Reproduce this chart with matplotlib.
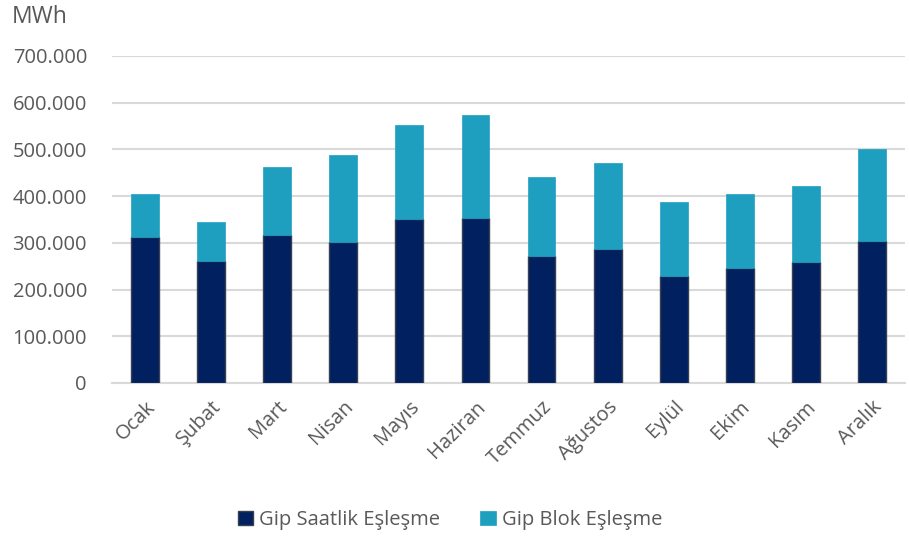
import matplotlib.pyplot as plt
import numpy as np

months = ['Ocak', 'Şubat', 'Mart', 'Nisan', 'Mayıs', 'Haziran', 'Temmuz',
          'Ağustos', 'Eylül', 'Ekim', 'Kasım', 'Aralık']
saatlik = [312000, 261000, 316000, 301000, 350000, 353000, 271000,
           287000, 230000, 246000, 259000, 303000]
toplam = [405000, 345000, 463000, 488000, 552000, 574000, 440000,
          472000, 388000, 405000, 422000, 500000]
blok = [t - s for t, s in zip(toplam, saatlik)]

plt.rcParams['font.family'] = ['Open Sans', 'DejaVu Sans']
text_color = '#595959'
dark = '#002060'
light = '#1f9fc0'

fig = plt.figure(figsize=(9.09, 5.42), dpi=100)
ax = fig.add_axes([112 / 909, 1 - 383 / 542, 793 / 909, 327 / 542])

x = np.arange(len(months))
ax.bar(x, saatlik, width=0.42, color=dark, edgecolor='#3a4050', linewidth=1,
       label='Gip Saatlik Eşleşme', zorder=3)
ax.bar(x, blok, bottom=saatlik, width=0.42, color=light, edgecolor=light,
       linewidth=0.5, label='Gip Blok Eşleşme', zorder=3)

ax.set_xlim(-0.5, len(months) - 0.5)
ax.set_ylim(0, 700000)
ax.set_yticks(np.arange(0, 700001, 100000))
ax.set_yticklabels(['0' if v == 0 else f'{v // 1000}.000' for v in range(0, 700001, 100000)])
ax.yaxis.grid(True, color='#d9d9d9', linewidth=1.5, zorder=0)
ax.set_axisbelow(True)

for s in ['top', 'right', 'left']:
    ax.spines[s].set_visible(False)
ax.spines['bottom'].set_color('#d9d9d9')
ax.spines['bottom'].set_linewidth(1.5)

ax.tick_params(axis='both', length=0, labelsize=14.5, colors=text_color)
ax.tick_params(axis='y', pad=18)
ax.set_xticks(x)
ax.set_xticklabels(months, rotation=45, ha='right', rotation_mode='anchor')
ax.tick_params(axis='x', pad=10)
for lbl in ax.get_xticklabels():
    lbl.set_x(lbl.get_position()[0])

fig.text(12 / 909, 1 - 17 / 542, 'MWh', fontsize=16.5, color=text_color, va='center')

handles, labels = ax.get_legend_handles_labels()
fig.legend(handles, labels, loc='center', bbox_to_anchor=(450 / 909, 1 - 520 / 542),
           ncol=2, frameon=False, fontsize=14.5, labelcolor=text_color,
           handlelength=0.75, handleheight=0.75, handletextpad=0.3, columnspacing=2.0)

fig.savefig('out.png', dpi=100)
